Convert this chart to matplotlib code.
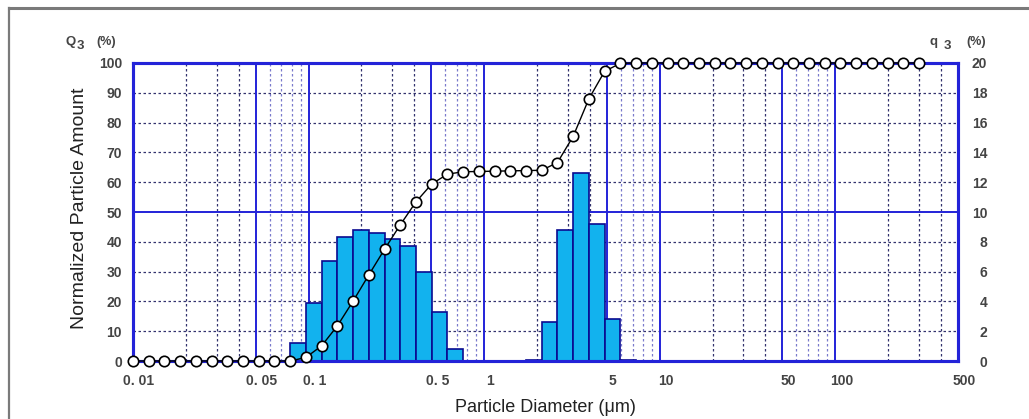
import numpy as np
import matplotlib.pyplot as plt
from matplotlib.lines import Line2D
from matplotlib.transforms import ScaledTranslation

# size classes (um), 51 points from 0.01 to 300
diam = [0.01, 0.01229, 0.01510, 0.01856, 0.02281, 0.02803, 0.03445, 0.04234,
        0.05204, 0.06395, 0.07860, 0.09660, 0.1187, 0.1459, 0.1793, 0.2204,
        0.2709, 0.3329, 0.4091, 0.5028, 0.6180, 0.7595, 0.9334, 1.147, 1.410,
        1.732, 2.129, 2.616, 3.215, 3.951, 4.856, 5.968, 7.334, 9.014, 11.08,
        13.61, 16.73, 20.56, 25.27, 31.06, 38.17, 46.91, 57.65, 70.85, 87.07,
        107.0, 131.5, 161.6, 198.6, 244.1, 300.0]

# q3 (%) per class, bar k spans diam[k]..diam[k+1]
q3 = [0, 0, 0, 0, 0, 0, 0, 0, 0, 0,
      1.2, 3.9, 6.7, 8.3, 8.8, 8.6, 8.2, 7.7, 6.0, 3.3,
      0.8, 0, 0, 0, 0, 0.05, 2.6, 8.8, 12.6, 9.2,
      2.8, 0.08, 0, 0, 0, 0, 0, 0, 0, 0,
      0, 0, 0, 0, 0, 0, 0, 0, 0, 0]

# Q3 (%) cumulative at each size point
Q3 = [0, 0, 0, 0, 0, 0, 0, 0, 0, 0, 0,
      1.2, 5.1, 11.8, 20.1, 28.9, 37.5, 45.7, 53.4, 59.4, 62.7,
      63.5, 63.6, 63.7, 63.8, 63.9, 64.0, 66.6, 75.4, 88.0, 97.2,
      99.9, 100, 100, 100, 100, 100, 100, 100, 100, 100,
      100, 100, 100, 100, 100, 100, 100, 100, 100, 100]

xticks = [0.01, 0.05, 0.1, 0.5, 1, 5, 10, 50, 100, 500]
xlabels = ['0. 01', '0. 05', '0. 1', '0. 5', '1', '5', '10', '50', '100', '500']
left_ticks = list(range(0, 101, 10))
right_ticks = list(range(0, 21, 2))

solid_x = [0.05, 0.1, 0.5, 1, 5, 10, 50, 100]
dark_dot_x = [0.02, 0.03, 0.04, 0.2, 0.3, 0.4, 2, 3, 4, 20, 30, 40, 200, 300, 400]
light_dot_x = [0.06, 0.07, 0.08, 0.09, 0.6, 0.7, 0.8, 0.9, 6, 7, 8, 9, 60, 70, 80, 90]

W, H = 1029, 419
blue = '#2323d8'
bar_color = '#12b2ee'
tick_font = dict(family='Liberation Sans', weight='bold', size=10)
label_color = '#444444'
dots = (0, (2, 2))

fig = plt.figure(figsize=(W / 100, H / 100), dpi=100)
ax = fig.add_axes([133 / W, 58 / H, 825 / W, 298 / H])
ax2 = ax.twinx()
ax.set_zorder(2)
ax2.set_zorder(1)
ax.patch.set_visible(False)
ax2.patch.set_facecolor('white')

ax.set_xscale('log')
ax.set_xlim(0.01, 500)
ax.set_ylim(0, 100)
ax2.set_ylim(0, 20)

# grid on the lower axes
for x in dark_dot_x:
    ax2.axvline(x, color='#33336e', lw=0.9, ls=dots, zorder=0)
for x in light_dot_x:
    ax2.axvline(x, color='#7a7acc', lw=0.9, ls=dots, zorder=0)
for y in right_ticks[1:-1]:
    if y == 10:
        ax2.axhline(y, color=blue, lw=1.4, zorder=0.5)
    else:
        ax2.axhline(y, color='#33336e', lw=0.9, ls=dots, zorder=0)
for x in solid_x:
    ax2.axvline(x, color=blue, lw=1.4, zorder=0.5)

# histogram bars
ax2.bar(diam[:-1], q3, width=np.diff(diam), align='edge',
        color=bar_color, edgecolor='#0a0a90', linewidth=1.2, zorder=2)

# cumulative curve
ax.plot(diam, Q3, '-', color='black', lw=1.0, marker='o', ms=7.5,
        mfc='white', mec='black', mew=1.2, clip_on=False, zorder=5)

for a in (ax, ax2):
    for s in a.spines.values():
        s.set_color(blue)
        s.set_linewidth(2.2)

ax.set_xticks(xticks)
ax.set_xticklabels(xlabels)
ax.xaxis.set_minor_locator(plt.NullLocator())
ax2.xaxis.set_minor_locator(plt.NullLocator())
ax.set_yticks(left_ticks)
ax2.set_yticks(right_ticks)

ax.tick_params(axis='x', length=0, pad=9, colors=label_color)
ax.tick_params(axis='y', length=0, pad=8, colors=label_color)
ax2.tick_params(axis='y', length=0, pad=21, colors=label_color)
shift = ScaledTranslation(6 / 100, 0, fig.dpi_scale_trans)
for t in ax.get_xticklabels():
    t.set_fontproperties(tick_font)
    t.set_transform(t.get_transform() + shift)
for t in ax.get_yticklabels():
    t.set_fontproperties(tick_font)
for t in ax2.get_yticklabels():
    t.set_fontproperties(tick_font)
    t.set_horizontalalignment('right')

# axis titles
fig.text(79 / W, 1 - 208 / H, 'Normalized Particle Amount', rotation=90,
         ha='center', va='center', family='Liberation Sans', size=14, color='#222222')
fig.text(545 / W, 1 - 407 / H, 'Particle Diameter (\u03bcm)',
         ha='center', va='center', family='Liberation Sans', size=13, color='#222222')

small = dict(family='Liberation Sans', weight='bold', color=label_color, va='center')
fig.text(65 / W, 1 - 42 / H, 'Q', size=9.5, **small)
fig.text(77 / W, 1 - 46 / H, '3', size=9.5, **small)
fig.text(96 / W, 1 - 42 / H, '(%)', size=9, **small)
fig.text(929 / W, 1 - 42 / H, 'q', size=9.5, **small)
fig.text(944 / W, 1 - 46 / H, '3', size=9.5, **small)
fig.text(966 / W, 1 - 42 / H, '(%)', size=9, **small)

# outer frame (top and left edges visible)
fig.add_artist(Line2D([8.5 / W, 1.0], [1 - 8.5 / H, 1 - 8.5 / H], color='#7a7a7a', lw=2.2))
fig.add_artist(Line2D([8.5 / W, 8.5 / W], [0.0, 1 - 8.5 / H], color='#7a7a7a', lw=1.6))

fig.savefig('out.png', dpi=100)
